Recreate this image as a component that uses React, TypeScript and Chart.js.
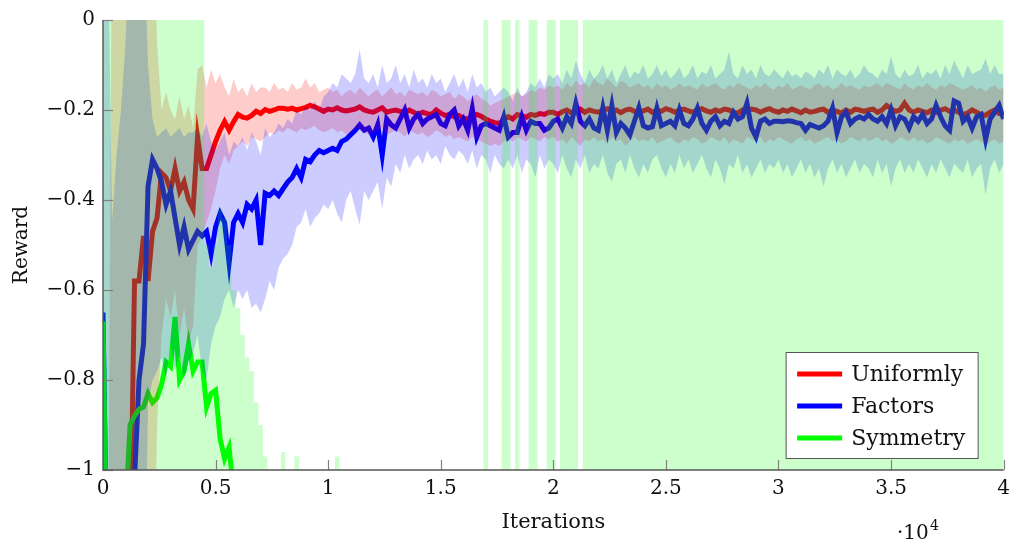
import React, { useEffect, useRef } from "react";
import { Chart, registerables } from "chart.js";

Chart.register(...registerables);

// Iterations sampled every 200 steps, 0 .. 40000 (201 samples)
const STEP = 200;
const SAMPLES = 201;
const iterations: number[] = Array.from({ length: SAMPLES }, (_, i) => i * STEP);

const xTickValues = [0, 5000, 10000, 15000, 20000, 25000, 30000, 35000, 40000];
const yTickValues = [0, -0.2, -0.4, -0.6, -0.8, -1];

const seriesNames = ["Uniformly", "Factors", "Symmetry"];

// ---------- Uniformly (red) ----------
const uniformMean = [
  -1.3, -1.3, -1.3, -1.3, -1.3, -1.3, -1.2, -0.58, -0.58, -0.48,
  -0.58, -0.47, -0.44, -0.34, -0.35, -0.38, -0.33, -0.38, -0.36, -0.40,
  -0.42, -0.26, -0.33, -0.33, -0.30, -0.27, -0.245, -0.226, -0.245, -0.226,
  -0.21, -0.216, -0.218, -0.212, -0.203, -0.208, -0.199, -0.203, -0.2, -0.196,
  -0.196, -0.198, -0.196, -0.2, -0.197, -0.194, -0.19, -0.193, -0.198, -0.203,
  -0.198, -0.2, -0.195, -0.2, -0.202, -0.2, -0.198, -0.193, -0.2, -0.203,
  -0.205, -0.2, -0.195, -0.205, -0.202, -0.2, -0.203, -0.206, -0.2, -0.205,
  -0.21, -0.205, -0.208, -0.21, -0.2, -0.207, -0.212, -0.21, -0.215, -0.212,
  -0.218, -0.22, -0.215, -0.21, -0.214, -0.22, -0.225, -0.228, -0.23, -0.222,
  -0.215, -0.22, -0.21, -0.213, -0.216, -0.21, -0.212, -0.208, -0.21, -0.205,
  -0.205, -0.21, -0.204, -0.2, -0.206, -0.202, -0.198, -0.205, -0.2, -0.203,
  -0.205, -0.2, -0.197, -0.205, -0.2, -0.206, -0.2, -0.198, -0.203, -0.205,
  -0.202, -0.198, -0.205, -0.2, -0.203, -0.197, -0.2, -0.205, -0.2, -0.198,
  -0.202, -0.205, -0.2, -0.197, -0.202, -0.205, -0.2, -0.203, -0.198, -0.2,
  -0.205, -0.207, -0.2, -0.203, -0.198, -0.2, -0.205, -0.2, -0.197, -0.202,
  -0.205, -0.2, -0.203, -0.198, -0.202, -0.206, -0.2, -0.205, -0.203, -0.2,
  -0.198, -0.205, -0.2, -0.203, -0.207, -0.2, -0.205, -0.198, -0.2, -0.203,
  -0.2, -0.198, -0.205, -0.2, -0.19, -0.197, -0.203, -0.2, -0.185, -0.2,
  -0.205, -0.2, -0.203, -0.206, -0.2, -0.205, -0.2, -0.197, -0.203, -0.2,
  -0.205, -0.21, -0.207, -0.2, -0.205, -0.21, -0.212, -0.205, -0.2, -0.208,
  -0.205,
];
const uniformUpper = [
  -1.5, -1.5, 0.3, 0.3, 0.3, 0.3, 0.3, 0.3, 0.3, 0.3,
  0.3, 0.3, -0.05, -0.2, -0.16, -0.2, -0.22, -0.17, -0.22, -0.19,
  -0.24, -0.11, -0.1, -0.15, -0.11, -0.14, -0.12, -0.15, -0.17, -0.13,
  -0.16, -0.15, -0.17, -0.14, -0.16, -0.15, -0.15, -0.16, -0.14, -0.155,
  -0.15, -0.16, -0.14, -0.155, -0.15, -0.13, -0.15, -0.14, -0.16, -0.155,
  -0.15, -0.16, -0.155, -0.17, -0.16, -0.155, -0.165, -0.15, -0.16, -0.17,
  -0.16, -0.155, -0.17, -0.16, -0.15, -0.165, -0.16, -0.17, -0.155, -0.16,
  -0.165, -0.16, -0.17, -0.155, -0.16, -0.17, -0.165, -0.16, -0.175, -0.165,
  -0.17, -0.18, -0.17, -0.165, -0.175, -0.18, -0.19, -0.185, -0.18, -0.175,
  -0.17, -0.165, -0.16, -0.17, -0.165, -0.155, -0.16, -0.15, -0.155, -0.145,
  -0.15, -0.145, -0.155, -0.14, -0.15, -0.135, -0.145, -0.14, -0.15, -0.13,
  -0.14, -0.145, -0.13, -0.14, -0.15, -0.135, -0.14, -0.15, -0.145, -0.14,
  -0.15, -0.145, -0.155, -0.14, -0.15, -0.145, -0.155, -0.15, -0.14, -0.15,
  -0.145, -0.15, -0.155, -0.14, -0.15, -0.145, -0.14, -0.15, -0.155, -0.145,
  -0.15, -0.14, -0.145, -0.15, -0.155, -0.145, -0.15, -0.14, -0.15, -0.155,
  -0.145, -0.15, -0.14, -0.155, -0.15, -0.145, -0.15, -0.155, -0.145, -0.14,
  -0.15, -0.145, -0.155, -0.15, -0.14, -0.15, -0.145, -0.15, -0.155, -0.145,
  -0.15, -0.145, -0.14, -0.15, -0.14, -0.145, -0.15, -0.155, -0.14, -0.15,
  -0.155, -0.145, -0.15, -0.14, -0.15, -0.155, -0.145, -0.15, -0.14, -0.145,
  -0.15, -0.155, -0.15, -0.145, -0.155, -0.15, -0.16, -0.15, -0.145, -0.155,
  -0.15,
];
const uniformLower = [
  -1.5, -1.5, -1.5, -1.5, -1.5, -1.5, -1.5, -1.5, -1.5, -1.5,
  -1.5, -1.5, -0.9, -0.7, -0.62, -0.66, -0.6, -0.7, -0.64, -0.72,
  -0.68, -0.5, -0.48, -0.45, -0.42, -0.38, -0.33, -0.3, -0.32, -0.29,
  -0.28, -0.27, -0.28, -0.26, -0.265, -0.27, -0.26, -0.25, -0.255, -0.245,
  -0.25, -0.24, -0.245, -0.25, -0.24, -0.245, -0.24, -0.235, -0.245, -0.25,
  -0.245, -0.24, -0.25, -0.245, -0.255, -0.25, -0.24, -0.245, -0.25, -0.255,
  -0.25, -0.245, -0.24, -0.255, -0.25, -0.245, -0.25, -0.26, -0.245, -0.25,
  -0.255, -0.25, -0.26, -0.255, -0.245, -0.25, -0.26, -0.255, -0.265, -0.26,
  -0.265, -0.27, -0.26, -0.265, -0.27, -0.275, -0.28, -0.275, -0.28, -0.27,
  -0.265, -0.27, -0.26, -0.265, -0.27, -0.26, -0.265, -0.27, -0.26, -0.265,
  -0.26, -0.27, -0.265, -0.275, -0.26, -0.27, -0.28, -0.265, -0.27, -0.26,
  -0.27, -0.265, -0.275, -0.26, -0.27, -0.265, -0.28, -0.27, -0.26, -0.27,
  -0.265, -0.27, -0.26, -0.275, -0.27, -0.265, -0.26, -0.27, -0.275, -0.265,
  -0.27, -0.26, -0.265, -0.275, -0.27, -0.26, -0.265, -0.27, -0.26, -0.275,
  -0.265, -0.27, -0.275, -0.26, -0.265, -0.27, -0.26, -0.275, -0.265, -0.27,
  -0.26, -0.265, -0.27, -0.275, -0.265, -0.26, -0.27, -0.265, -0.275, -0.27,
  -0.265, -0.26, -0.27, -0.265, -0.275, -0.27, -0.26, -0.265, -0.27, -0.26,
  -0.27, -0.265, -0.26, -0.27, -0.265, -0.275, -0.27, -0.26, -0.265, -0.27,
  -0.26, -0.27, -0.265, -0.275, -0.27, -0.26, -0.265, -0.27, -0.275, -0.265,
  -0.27, -0.265, -0.275, -0.27, -0.265, -0.27, -0.28, -0.27, -0.265, -0.275,
  -0.27,
];

// ---------- Factors (blue) ----------
const factorsMean = [
  -0.65, -1.3, -1.3, -1.3, -1.3, -1.3, -1.25, -1.02, -0.8, -0.72,
  -0.37, -0.31, -0.33, -0.36, -0.41, -0.38, -0.44, -0.5, -0.46, -0.51,
  -0.49, -0.47, -0.48, -0.47, -0.52, -0.46, -0.43, -0.45, -0.54, -0.45,
  -0.43, -0.45, -0.41, -0.42, -0.40, -0.50, -0.385, -0.39, -0.38, -0.39,
  -0.375, -0.36, -0.35, -0.33, -0.35, -0.31, -0.315, -0.30, -0.29, -0.295,
  -0.29, -0.285, -0.29, -0.27, -0.265, -0.255, -0.245, -0.233, -0.245, -0.24,
  -0.26, -0.233, -0.30, -0.22, -0.233, -0.24, -0.22, -0.20, -0.24, -0.22,
  -0.21, -0.23, -0.22, -0.215, -0.21, -0.23, -0.235, -0.21, -0.20, -0.235,
  -0.22, -0.245, -0.197, -0.26, -0.235, -0.23, -0.235, -0.24, -0.245, -0.215,
  -0.26, -0.25, -0.25, -0.215, -0.245, -0.225, -0.23, -0.23, -0.245, -0.24,
  -0.225, -0.22, -0.24, -0.215, -0.23, -0.185, -0.225, -0.235, -0.22, -0.24,
  -0.245, -0.195, -0.245, -0.19, -0.25, -0.23, -0.24, -0.255, -0.225, -0.195,
  -0.235, -0.24, -0.237, -0.196, -0.235, -0.23, -0.225, -0.235, -0.2, -0.23,
  -0.235, -0.22, -0.196, -0.23, -0.245, -0.225, -0.215, -0.235, -0.225, -0.23,
  -0.205, -0.22, -0.215, -0.185, -0.24, -0.26, -0.225, -0.22, -0.23, -0.225,
  -0.225, -0.226, -0.224, -0.225, -0.228, -0.23, -0.245, -0.232, -0.236, -0.24,
  -0.235, -0.225, -0.196, -0.25, -0.215, -0.205, -0.23, -0.22, -0.215, -0.22,
  -0.21, -0.22, -0.225, -0.215, -0.23, -0.2, -0.235, -0.215, -0.22, -0.24,
  -0.215, -0.225, -0.21, -0.23, -0.22, -0.19, -0.215, -0.235, -0.245, -0.18,
  -0.185, -0.225, -0.215, -0.24, -0.215, -0.21, -0.265, -0.22, -0.205, -0.19,
  -0.22,
];
const factorsUpper = [
  0.3, 0.3, -0.45, -0.3, -0.2, -0.05, 0.2, 0.2, 0.2, 0.2,
  -0.1, -0.22, -0.26, -0.25, -0.24, -0.26, -0.25, -0.24, -0.26, -0.25,
  -0.25, -0.24, -0.26, -0.23, -0.27, -0.29, -0.27, -0.25, -0.30, -0.27,
  -0.28, -0.26, -0.29, -0.25, -0.27, -0.30, -0.24, -0.26, -0.25, -0.23,
  -0.24, -0.22, -0.23, -0.20, -0.21, -0.19, -0.2, -0.18, -0.2, -0.17,
  -0.16, -0.14, -0.15, -0.12, -0.13, -0.14, -0.12, -0.065, -0.13, -0.14,
  -0.12, -0.15, -0.1, -0.14, -0.13, -0.1, -0.14, -0.12, -0.15, -0.11,
  -0.14, -0.13, -0.15, -0.12, -0.14, -0.13, -0.16, -0.14, -0.12, -0.15,
  -0.13, -0.16, -0.12, -0.15, -0.14, -0.16, -0.15, -0.17, -0.16, -0.15,
  -0.16, -0.18, -0.15, -0.17, -0.16, -0.14, -0.15, -0.13, -0.15, -0.12,
  -0.13, -0.12, -0.14, -0.11, -0.13, -0.09, -0.12, -0.14, -0.11, -0.13,
  -0.12, -0.1, -0.13, -0.11, -0.14, -0.12, -0.1, -0.13, -0.115, -0.12,
  -0.1, -0.13, -0.12, -0.1, -0.125, -0.11, -0.13, -0.12, -0.105, -0.13,
  -0.12, -0.1, -0.13, -0.115, -0.12, -0.1, -0.13, -0.12, -0.11, -0.07,
  -0.12, -0.13, -0.1, -0.12, -0.11, -0.13, -0.1, -0.12, -0.125, -0.11,
  -0.12, -0.13, -0.11, -0.125, -0.12, -0.13, -0.115, -0.12, -0.13, -0.11,
  -0.12, -0.1, -0.13, -0.11, -0.12, -0.125, -0.11, -0.13, -0.12, -0.1,
  -0.115, -0.12, -0.13, -0.11, -0.12, -0.08, -0.12, -0.13, -0.11, -0.125,
  -0.12, -0.1, -0.13, -0.115, -0.12, -0.11, -0.13, -0.1, -0.12, -0.09,
  -0.11, -0.13, -0.1, -0.12, -0.115, -0.11, -0.085, -0.12, -0.1, -0.12,
  -0.12,
];
const factorsLower = [
  -1.5, -1.5, -1.5, -1.5, -1.5, -1.5, -1.5, -1.5, -1.5, -1.5,
  -0.85, -0.8, -0.78, -0.75, -0.8, -0.72, -0.78, -0.74, -0.8, -0.76,
  -0.74, -0.7, -0.78, -0.8, -0.72, -0.68, -0.66, -0.62, -0.6, -0.64,
  -0.6, -0.62, -0.6, -0.64, -0.63, -0.65, -0.62, -0.58, -0.6, -0.55,
  -0.53, -0.52, -0.5, -0.46, -0.45, -0.42, -0.46, -0.44, -0.43, -0.41,
  -0.42, -0.40, -0.43, -0.45, -0.4, -0.38, -0.42, -0.455, -0.38, -0.4,
  -0.38, -0.36, -0.42, -0.35, -0.37, -0.32, -0.34, -0.3, -0.33, -0.31,
  -0.3, -0.32, -0.29, -0.31, -0.3, -0.32, -0.28, -0.3, -0.31, -0.29,
  -0.3, -0.32, -0.29, -0.33, -0.3, -0.31, -0.34, -0.3, -0.32, -0.33,
  -0.31, -0.33, -0.3, -0.34, -0.31, -0.32, -0.35, -0.3, -0.33, -0.31,
  -0.32, -0.34, -0.3, -0.33, -0.35, -0.31, -0.33, -0.3, -0.34, -0.32,
  -0.33, -0.3, -0.34, -0.36, -0.32, -0.31, -0.34, -0.3, -0.33, -0.35,
  -0.32, -0.34, -0.31, -0.3, -0.33, -0.35, -0.32, -0.34, -0.3, -0.33,
  -0.31, -0.34, -0.32, -0.3, -0.33, -0.35, -0.31, -0.33, -0.365, -0.32,
  -0.33, -0.3, -0.34, -0.32, -0.35, -0.33, -0.31, -0.34, -0.32, -0.33,
  -0.31, -0.34, -0.32, -0.35, -0.33, -0.31, -0.34, -0.32, -0.35, -0.33,
  -0.37, -0.33, -0.31, -0.34, -0.32, -0.35, -0.33, -0.31, -0.34, -0.32,
  -0.33, -0.35, -0.31, -0.34, -0.32, -0.37, -0.33, -0.31, -0.34, -0.32,
  -0.34, -0.31, -0.33, -0.35, -0.32, -0.34, -0.31, -0.33, -0.35, -0.32,
  -0.33, -0.34, -0.31, -0.35, -0.33, -0.32, -0.39, -0.33, -0.31, -0.34,
  -0.32,
];

// ---------- Symmetry (green) ----------
const symmetryMean: (number | null)[] = [
  -0.67, -1.3, -1.3, -1.3, -1.3, -1.1, -0.9, -0.88, -0.865, -0.86,
  -0.83, -0.85, -0.84, -0.81, -0.76, -0.77, -0.66, -0.8, -0.78, -0.72,
  -0.78, -0.76, -0.76, -0.86, -0.83, -0.823, -0.93, -0.975, -0.95, -1.05,
];
// upper edge of the Symmetry band (its lower edge lies below the plotted range)
const symmetryUpper = [
  0.3, 0.3, 0.3, 0.3, 0.3, 0.3, 0.3, 0.3, 0.3, 0.3,
  0.3, 0.3, 0.3, 0.3, 0.3, 0.3, 0.3, 0.3, 0.3, 0.3,
  0.3, 0.3, 0.3, -0.5, -0.55, -0.5, -0.42, -0.44, -0.5, -0.6,
  -0.64, -0.7, -0.75, -0.78, -0.85, -0.9, -0.97, -1.1, -1.1, -1.1,
  -0.96, -1.1, -1.1, -0.97, -1.1, -1.1, -1.1, -1.1, -1.1, -1.1,
  -1.1, -1.1, -0.97, -1.1, -1.1, -1.1, -1.1, -1.1, -1.1, -1.1,
  -1.1, -1.1, -1.1, -1.1, -1.1, -1.1, -1.1, -1.1, -1.1, -1.1,
  -1.1, -1.1, -1.1, -1.1, -1.1, -1.1, -1.1, -1.1, -1.1, -1.1,
  -1.1, -1.1, -1.1, -1.1, -1.1, 0.3, -1.1, -1.1, -1.1, 0.3,
  0.3, -1.1, 0.3, -1.1, -1.1, 0.3, 0.3, -1.1, -1.1, 0.3,
  0.3, -1.1, 0.3, 0.3, 0.3, 0.3, -1.1, 0.3, 0.3, 0.3,
  0.3, 0.3, 0.3, 0.3, 0.3, 0.3, 0.3, 0.3, 0.3, 0.3,
  0.3, 0.3, 0.3, 0.3, 0.3, 0.3, 0.3, 0.3, 0.3, 0.3,
  0.3, 0.3, 0.3, 0.3, 0.3, 0.3, 0.3, 0.3, 0.3, 0.3,
  0.3, 0.3, 0.3, 0.3, 0.3, 0.3, 0.3, 0.3, 0.3, 0.3,
  0.3, 0.3, 0.3, 0.3, 0.3, 0.3, 0.3, 0.3, 0.3, 0.3,
  0.3, 0.3, 0.3, 0.3, 0.3, 0.3, 0.3, 0.3, 0.3, 0.3,
  0.3, 0.3, 0.3, 0.3, 0.3, 0.3, 0.3, 0.3, 0.3, 0.3,
  0.3, 0.3, 0.3, 0.3, 0.3, 0.3, 0.3, 0.3, 0.3, 0.3,
  0.3, 0.3, 0.3, 0.3, 0.3, 0.3, 0.3, 0.3, 0.3, 0.3,
  0.3,
];

const lineColors = ["#ff0000", "#0000ff", "#00ff00"];
const bandColors = ["rgba(255,0,0,0.2)", "rgba(0,0,255,0.2)", "rgba(0,255,0,0.2)"];

const FONT = "'DejaVu Serif', 'Liberation Serif', serif";

const toPoints = (vals: (number | null)[]) =>
  iterations.map((x, i) => ({ x, y: i < vals.length ? vals[i] : null }));

const fmtY = (v: number) => {
  const r = Math.round(v * 10) / 10;
  return r === 0 ? "0" : "\u2212" + Math.abs(r);
};

const decorPlugin = {
  id: "decor",
  afterDatasetsDraw(chart: any) {
    const { ctx, chartArea, scales } = chart;
    const { left, right, top, bottom } = chartArea;
    ctx.save();
    // inward ticks
    ctx.strokeStyle = "#808080";
    ctx.lineWidth = 1.2;
    xTickValues.forEach((v) => {
      const px = Math.round(scales.x.getPixelForValue(v)) + 0.5;
      ctx.beginPath();
      ctx.moveTo(px, bottom);
      ctx.lineTo(px, bottom - 10);
      ctx.stroke();
    });
    yTickValues.forEach((v) => {
      const py = Math.round(scales.y.getPixelForValue(v)) + 0.5;
      ctx.beginPath();
      ctx.moveTo(left, py);
      ctx.lineTo(left + 10, py);
      ctx.stroke();
    });
    // axis lines (left and bottom)
    ctx.strokeStyle = "#555555";
    ctx.lineWidth = 1.4;
    ctx.beginPath();
    ctx.moveTo(left, top);
    ctx.lineTo(left, bottom);
    ctx.lineTo(right, bottom);
    ctx.stroke();
    ctx.restore();
  },
  afterDraw(chart: any) {
    const { ctx, chartArea } = chart;
    ctx.save();
    // legend box
    const bx = chartArea.right - 217.5;
    const by = chartArea.bottom - 117.5;
    const bw = 192;
    const bh = 106;
    ctx.fillStyle = "#ffffff";
    ctx.fillRect(bx, by, bw, bh);
    ctx.strokeStyle = "#555555";
    ctx.lineWidth = 1;
    ctx.strokeRect(bx, by, bw, bh);
    ctx.font = `22px ${FONT}`;
    ctx.textBaseline = "middle";
    ctx.textAlign = "left";
    seriesNames.forEach((name, k) => {
      const y = by + 21.5 + k * 32;
      ctx.strokeStyle = lineColors[k];
      ctx.lineWidth = 5;
      ctx.beginPath();
      ctx.moveTo(bx + 11, y);
      ctx.lineTo(bx + 56, y);
      ctx.stroke();
      ctx.fillStyle = "#111111";
      ctx.fillText(name, bx + 65, y + 1);
    });
    // x-axis scale factor  ·10^4
    ctx.fillStyle = "#111111";
    ctx.textBaseline = "alphabetic";
    ctx.font = `20px ${FONT}`;
    ctx.fillText("\u00b710", 897, 539);
    ctx.font = `14px ${FONT}`;
    ctx.fillText("4", 930, 530);
    ctx.restore();
  },
};

export default function App() {
  const ref = useRef<HTMLCanvasElement | null>(null);

  useEffect(() => {
    if (!ref.current) return;
    const lineBase = {
      type: "line" as const,
      pointRadius: 0,
      borderWidth: 5,
      tension: 0,
      fill: false,
      spanGaps: false,
      borderJoinStyle: "miter" as const,
    };
    const bandBase = {
      type: "line" as const,
      pointRadius: 0,
      borderWidth: 0,
      borderColor: "rgba(0,0,0,0)",
      tension: 0,
    };
    const chart = new Chart(ref.current, {
      type: "line",
      data: {
        datasets: [
          { ...lineBase, label: seriesNames[0], data: toPoints(uniformMean), borderColor: lineColors[0], order: 30 },
          { ...lineBase, label: seriesNames[1], data: toPoints(factorsMean), borderColor: lineColors[1], order: 29 },
          { ...lineBase, label: seriesNames[2], data: toPoints(symmetryMean), borderColor: lineColors[2], order: 28 },
          { ...bandBase, label: "u+", data: toPoints(uniformUpper), fill: "+1", backgroundColor: bandColors[0], order: 20 },
          { ...bandBase, label: "u-", data: toPoints(uniformLower), fill: false, order: 20 },
          { ...bandBase, label: "f+", data: toPoints(factorsUpper), fill: "+1", backgroundColor: bandColors[1], order: 19 },
          { ...bandBase, label: "f-", data: toPoints(factorsLower), fill: false, order: 19 },
          { ...bandBase, label: "s+", data: toPoints(symmetryUpper), fill: "start", stepped: "middle", backgroundColor: bandColors[2], order: 18 },
        ] as any,
      },
      options: {
        animation: false,
        responsive: false,
        devicePixelRatio: 1,
        parsing: true,
        layout: { padding: { top: 18, right: 9, bottom: 0, left: 0 } },
        plugins: {
          legend: { display: false },
          tooltip: { enabled: false },
          filler: { propagate: false },
        },
        scales: {
          x: {
            type: "linear",
            min: 0,
            max: 40000,
            grid: { display: false, drawTicks: false },
            border: { display: false },
            afterBuildTicks: (scale: any) => {
              scale.ticks = xTickValues.map((v) => ({ value: v }));
            },
            ticks: {
              autoSkip: false,
              maxRotation: 0,
              padding: 7,
              color: "#111111",
              font: { family: FONT, size: 20 },
              callback: (v: any) => String(Number(v) / 10000),
            },
            title: {
              display: true,
              text: "Iterations",
              color: "#111111",
              font: { family: FONT, size: 21 },
              padding: { top: 0, bottom: 8 },
            },
            afterFit: (scale: any) => {
              scale.height = 73;
            },
          },
          y: {
            type: "linear",
            min: -1,
            max: 0,
            grid: { display: false, drawTicks: false },
            border: { display: false },
            afterBuildTicks: (scale: any) => {
              scale.ticks = yTickValues.map((v) => ({ value: v }));
            },
            ticks: {
              autoSkip: false,
              padding: 8,
              color: "#111111",
              font: { family: FONT, size: 20 },
              callback: (v: any) => fmtY(Number(v)),
            },
            title: {
              display: true,
              text: "Reward",
              color: "#111111",
              font: { family: FONT, size: 20 },
              padding: { top: 10, bottom: 0 },
            },
            afterFit: (scale: any) => {
              scale.width = 103;
            },
          },
        },
      },
      plugins: [decorPlugin],
    } as any);
    return () => chart.destroy();
  }, []);

  return (
    <div style={{ position: "absolute", left: 0, top: 0, width: 1017, height: 543, background: "#ffffff" }}>
      <canvas ref={ref} width={1017} height={543} style={{ display: "block", width: 1017, height: 543 }} />
    </div>
  );
}
